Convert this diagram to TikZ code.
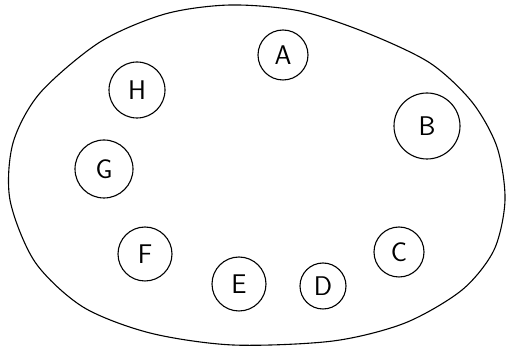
\documentclass[tikz,border=0pt]{standalone}
\usepackage{fontspec}
\usepackage{tikz}
\usetikzlibrary{positioning}

\tikzset{
  member/.style={draw,circle,line width=1.1pt,inner sep=0pt,
    font=\sffamily\fontsize{27}{30}\selectfont}
}

\begin{document}
\begin{tikzpicture}[x=1pt,y=-1pt]
        \useasboundingbox (0,0) rectangle (507,347);
        % outer set
        \draw[line width=1.1pt] plot[smooth cycle,tension=0.5] coordinates {
          (230,5) (300,11) (367,33) (430,63) (472,102) (497,147) (505,200)
          (494,250) (462,290) (405,323) (333,341) (233,345) (150,333)
          (83,307) (35,262) (10,200) (13,143) (40,93) (100,42) (165,14)};
        % circled letters
        \foreach \lbl/\px/\py/\rr in {A/283/55/25,B/427/126/33,C/399/252/25,
            D/323/286/23,E/239/284/27,F/145/254/27,G/104/169/29,H/137/90/28}
          \node[member,minimum size={2*\rr pt}] (\lbl) at (\px,\py) {\lbl};
      \end{tikzpicture}
\end{document}
